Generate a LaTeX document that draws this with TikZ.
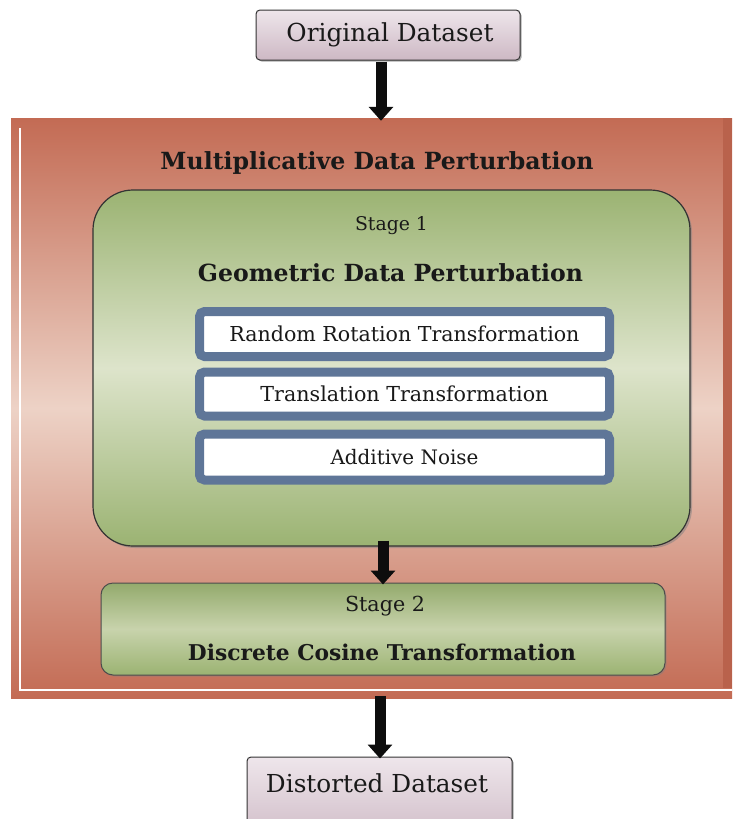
\documentclass[tikz,border=0pt]{standalone}
\usepackage{fontspec}
\setmainfont{DejaVu Serif}
\usetikzlibrary{arrows.meta,shadows}
\definecolor{redD}{HTML}{C36B54}
\definecolor{redL}{HTML}{EDD2C6}
\definecolor{redS}{HTML}{B9624C}
\definecolor{grnD}{HTML}{9BB372}
\definecolor{grnL}{HTML}{DDE4CB}
\definecolor{grnM}{HTML}{C8D3AC}
\definecolor{bluB}{HTML}{5F7698}
\definecolor{mauL}{HTML}{EEE6EB}
\definecolor{mauD}{HTML}{CDB8C4}
\newcommand{\fitw}[2]{\resizebox{#1pt}{!}{#2}}
\tikzset{
  dsbox/.style={draw=black!80, line width=1pt, rounded corners=4pt, top color=mauL, bottom color=mauD, inner sep=0pt,
    drop shadow={shadow xshift=1.5pt, shadow yshift=-1.5pt, fill=black!55, opacity=0.6}},
  bigarrow/.style={line width=11pt, -{Triangle[width=24pt,length=14pt]}, black!95},
  bluebox/.style={draw=bluB, line width=9pt, fill=white, rounded corners=5pt, inner sep=0pt},
  lbl/.style={inner sep=0pt, text=black!90}
}
\begin{document}
\begin{tikzpicture}[x=1pt,y=-1pt]
\useasboundingbox (0,0) rectangle (732,819);
\clip (0,0) rectangle (732,819);
\fill[white] (0,0) rectangle (732,819);
% outer red box
\node[minimum width=721pt, minimum height=580pt, inner sep=0pt, top color=redD, bottom color=redD, middle color=redL] (outer) at (371.5,408) {};
\fill[redS] (723,118) rectangle (732,688);
\draw[white, line width=2.5pt] (20,128) -- (20,690) -- (732,690);
\node[lbl] (mdptitle) at (377,163) {\fitw{433}{\bfseries Multiplicative Data Perturbation}};
% green stage 1 box
\node[draw=black!80, line width=1.2pt, rounded corners=40pt, minimum width=597pt, minimum height=356pt, inner sep=0pt,
  top color=grnD, bottom color=grnD, middle color=grnL,
  drop shadow={shadow xshift=2pt, shadow yshift=-2pt, fill=black!50, opacity=0.5}] (green) at (391.5,368) {};
\node[lbl] (st1) at (391.5,226) {\fitw{73}{Stage 1}};
\node[lbl] (geo) at (390.5,273) {\fitw{385}{\bfseries Geometric Data Perturbation}};
\node[bluebox, minimum width=410pt, minimum height=45pt] (rr) at (404.5,334) {};
\node[lbl] at (rr) {\fitw{350}{Random Rotation Transformation}};
\node[bluebox, minimum width=410pt, minimum height=44pt] (tt) at (404.5,394) {};
\node[lbl] at (tt) {\fitw{288}{Translation Transformation}};
\node[bluebox, minimum width=410pt, minimum height=46pt] (an) at (404.5,457) {};
\node[lbl] at (an) {\fitw{148}{Additive Noise}};
% stage 2 box
\node[draw=black!70, line width=1pt, rounded corners=12pt, minimum width=564pt, minimum height=92pt, inner sep=0pt,
  top color=grnD!95!black, bottom color=grnD, middle color=grnM,
  drop shadow={shadow xshift=1.5pt, shadow yshift=-1.5pt, fill=black!50, opacity=0.4}] (st2box) at (383,629) {};
\node[lbl] (st2) at (385,606) {\fitw{80}{Stage 2}};
\node[lbl] (dct) at (382,652) {\fitw{388}{\bfseries Discrete Cosine Transformation}};
% dataset boxes
\node[dsbox, minimum width=264pt, minimum height=50pt] (orig) at (388,35) {};
\node[lbl] at (390,35) {\fitw{207}{Original Dataset}};
\node[dsbox, minimum width=265pt, minimum height=90pt] (dist) at (379.5,802) {};
\node[lbl] at (377,783) {\fitw{222}{Distorted Dataset}};
% arrows
\draw[bigarrow] ([xshift=-7pt,yshift=-1pt]orig.south) -- ([xshift=9.5pt,yshift=-3pt]outer.north);
\draw[bigarrow] ([xshift=-8.5pt,yshift=6pt]green.south) -- ([yshift=-2pt]st2box.north);
\draw[bigarrow] ([xshift=8.5pt,yshift=2pt]outer.south) -- ([xshift=0.5pt,yshift=-2pt]dist.north);
\end{tikzpicture}
\end{document}
